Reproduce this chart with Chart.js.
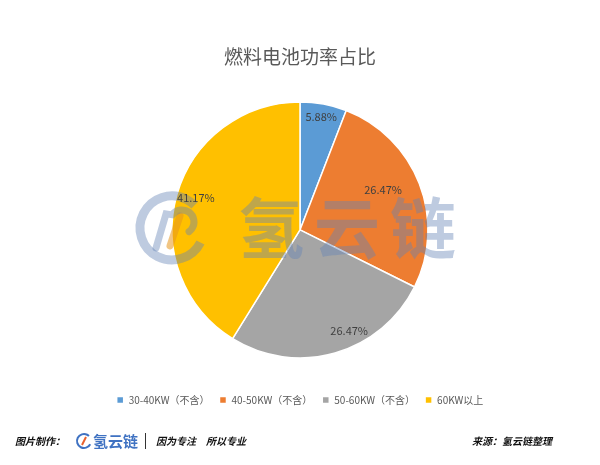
<!DOCTYPE html>
<html>
<head>
<meta charset="utf-8">
<script src="https://cdn.jsdelivr.net/npm/chart.js@4/dist/chart.umd.min.js"></script>
<style>
  html, body { margin: 0; padding: 0; background: #fff; }
  #wrap { width: 600px; height: 465px; position: relative; }
</style>
</head>
<body>
<div id="wrap"><canvas id="chart" width="600" height="465"></canvas></div>
<script>
// Chart data.
const titleText = '燃料电池功率占比';
const categories = ['30-40KW（不含）', '40-50KW（不含）', '50-60KW（不含）', '60KW以上'];
const shares = [5.88, 26.47, 26.47, 41.17];

// Styles.
const sliceColors = ['#5B9BD5', '#ED7D31', '#A5A5A5', '#FFC000'];
// label placement inside each slice: fraction of radius and angle nudge (degrees)
const labelRadius = [0.9, 0.72, 0.88, 0.85];
const labelNudge = [0, -4.5, -10, 1];
const cjkFont = '"Noto Sans CJK SC", "Noto Sans", sans-serif';

// Watermark logo drawn across the pie (semi transparent).
const watermark = {
  id: 'watermark',
  afterDatasetsDraw(chart) {
    const ctx = chart.ctx;
    const arc = chart.getDatasetMeta(0).data[0];
    const cx = arc.x;
    const cy = arc.y;
    ctx.save();
    // Ring icon.
    const ix = cx - 128, iy = cy - 2;
    ctx.strokeStyle = 'rgba(100,130,180,0.42)';
    ctx.lineWidth = 9;
    ctx.beginPath();
    ctx.arc(ix, iy, 32, Math.PI * 0.15, Math.PI * 1.75);
    ctx.stroke();
    // Inner slashes.
    ctx.lineWidth = 7;
    ctx.lineCap = 'round';
    ctx.strokeStyle = 'rgba(230,150,30,0.55)';
    ctx.beginPath();
    ctx.moveTo(ix - 2, iy + 18);
    ctx.lineTo(ix + 8, iy - 12);
    ctx.stroke();
    ctx.strokeStyle = 'rgba(100,130,180,0.42)';
    ctx.beginPath();
    ctx.moveTo(ix - 16, iy + 20);
    ctx.lineTo(ix - 6, iy - 14);
    ctx.arc(ix + 10, iy - 6, 12, Math.PI * 1.2, Math.PI * 2.3);
    ctx.stroke();
    // Brand text.
    ctx.fillStyle = 'rgba(100,130,180,0.42)';
    ctx.font = 'bold 66px ' + cjkFont;
    ctx.textBaseline = 'middle';
    ctx.textAlign = 'left';
    let x = cx - 62;
    for (const ch of '氢云链') {
      ctx.fillText(ch, x, iy);
      x += 76;
    }
    ctx.restore();
  }
};

// Percentage labels inside the slices.
const sliceLabels = {
  id: 'sliceLabels',
  afterDatasetsDraw(chart) {
    const ctx = chart.ctx;
    const meta = chart.getDatasetMeta(0);
    ctx.save();
    ctx.font = '11px ' + cjkFont;
    ctx.fillStyle = '#404040';
    ctx.textAlign = 'center';
    ctx.textBaseline = 'middle';
    meta.data.forEach((arc, i) => {
      const mid = (arc.startAngle + arc.endAngle) / 2 + labelNudge[i] * Math.PI / 180;
      const r = arc.outerRadius * labelRadius[i];
      ctx.fillText(shares[i].toFixed(2) + '%', arc.x + Math.cos(mid) * r, arc.y + Math.sin(mid) * r);
    });
    ctx.restore();
  }
};

// Footer credits.
const footer = {
  id: 'footer',
  afterDraw(chart) {
    const ctx = chart.ctx;
    const y = 441;
    ctx.save();
    ctx.textBaseline = 'middle';
    ctx.fillStyle = '#111';
    ctx.font = 'italic bold 10px ' + cjkFont;
    ctx.fillText('图片制作：', 15, y);
    // small logo
    ctx.strokeStyle = '#3f72c2';
    ctx.lineWidth = 2;
    ctx.beginPath();
    ctx.arc(84, y, 7, Math.PI * 0.15, Math.PI * 1.75);
    ctx.stroke();
    ctx.strokeStyle = '#e8602c';
    ctx.beginPath();
    ctx.moveTo(82, y + 4);
    ctx.lineTo(86, y - 4);
    ctx.stroke();
    ctx.fillStyle = '#3f72c2';
    ctx.font = 'bold 15px ' + cjkFont;
    ctx.fillText('氢云链', 93, y);
    ctx.fillStyle = '#333';
    ctx.fillRect(145, y - 8, 1, 16);
    ctx.fillStyle = '#111';
    ctx.font = 'italic bold 10px ' + cjkFont;
    ctx.fillText('因为专注', 156, y);
    ctx.fillText('所以专业', 206, y);
    ctx.fillText('来源：氢云链整理', 472, y);
    ctx.restore();
  }
};

new Chart(document.getElementById('chart'), {
  type: 'pie',
  data: {
    labels: categories,
    datasets: [{
      data: shares,
      backgroundColor: sliceColors,
      borderColor: '#ffffff',
      borderWidth: 1.5,
      radius: 128
    }]
  },
  options: {
    responsive: false,
    animation: false,
    layout: { padding: { left: 0, right: 0, top: 0, bottom: 50 } },
    plugins: {
      title: {
        display: true,
        text: titleText,
        color: '#595959',
        font: { family: cjkFont, size: 19, weight: 'normal' },
        padding: { top: 45, bottom: 7 }
      },
      legend: {
        position: 'bottom',
        labels: {
          boxWidth: 7,
          boxHeight: 7,
          padding: 10,
          color: '#595959',
          font: { family: cjkFont, size: 10 }
        }
      },
      tooltip: { enabled: false }
    }
  },
  plugins: [watermark, sliceLabels, footer]
});
</script>
</body>
</html>
